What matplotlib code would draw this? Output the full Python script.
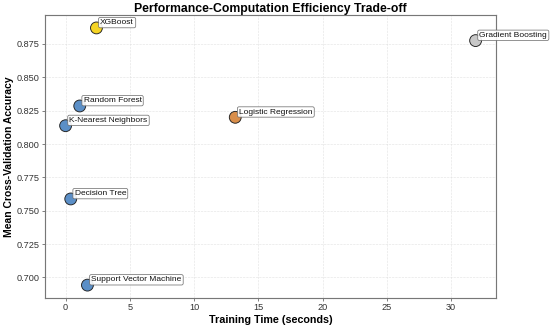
import matplotlib.pyplot as plt

plt.rcParams['font.family'] = ['Liberation Sans', 'DejaVu Sans']

# model results
models = ['XGBoost', 'Gradient Boosting', 'Random Forest', 'K-Nearest Neighbors',
          'Logistic Regression', 'Decision Tree', 'Support Vector Machine']
train_time = [2.4, 31.9, 1.1, 0.0, 13.2, 0.4, 1.7]
cv_accuracy = [0.887, 0.8775, 0.8285, 0.8137, 0.820, 0.7588, 0.6942]
colors = ['#f5d423', '#c8c8c8', '#5b8fc7', '#5b8fc7', '#d98e4a', '#5b8fc7', '#5b8fc7']

fig, ax = plt.subplots(figsize=(10, 5.964), dpi=55)
fig.subplots_adjust(left=0.082, right=0.902, top=0.954, bottom=0.0915)

ax.scatter(train_time, cv_accuracy, s=240, c=colors, edgecolors='#222222',
           linewidths=1.2, zorder=3)

for name, x, y in zip(models, train_time, cv_accuracy):
    ax.annotate(name, (x, y), xytext=(5, 5), textcoords='offset points',
                fontsize=11, color='#111111',
                bbox=dict(boxstyle='round,pad=0.2', fc='white', ec='#666666',
                          lw=1.0, alpha=0.9), zorder=4)

ax.set_xlabel('Training Time (seconds)', fontsize=14, fontweight='bold')
ax.set_ylabel('Mean Cross-Validation Accuracy', fontsize=13.5, fontweight='bold',
              labelpad=3)
ax.set_title('Performance-Computation Efficiency Trade-off', fontsize=16,
             fontweight='bold', pad=3)

ax.grid(True, linestyle='--', color='#dddddd', linewidth=0.8, alpha=0.8)
ax.set_axisbelow(True)
ax.tick_params(labelsize=12, colors='#333333', length=4, pad=3)
for sp in ax.spines.values():
    sp.set_color('#777777')
    sp.set_linewidth(1.5)

fig.savefig('out.png', dpi=55)
